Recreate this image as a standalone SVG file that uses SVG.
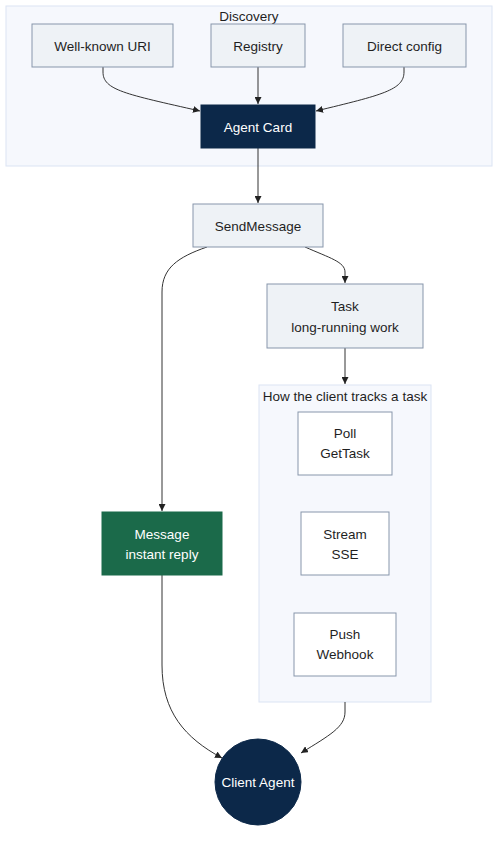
<svg xmlns="http://www.w3.org/2000/svg" width="504" height="841" viewBox="0 0 504 841">
<style>
text{font-family:"Liberation Sans",Arial,sans-serif;font-size:13.5px;fill:#1f1f1f;text-anchor:middle;dominant-baseline:central}
.cl{fill:#f6f8fd;stroke:#dbe4f3;stroke-width:1}
.n{fill:#eef2f6;stroke:#8796ab;stroke-width:1}
.w{fill:#ffffff;stroke:#8796ab;stroke-width:1}
.dk{fill:#0c2849;stroke:#0c2849}
.gr{fill:#1b6a4a;stroke:#1b6a4a}
.lt{fill:#ffffff}
.e{fill:none;stroke:#333;stroke-width:1;marker-end:url(#ah)}
</style>
<defs>
<marker id="ah" viewBox="0 0 10 10" refX="10" refY="5" markerWidth="7" markerHeight="7" markerUnits="userSpaceOnUse" orient="auto">
<path d="M0,0 L10,5 L0,10 z" fill="#222"/>
</marker>
</defs>
<rect width="504" height="841" fill="#ffffff"/>
<g id="cluster-discovery">
<rect class="cl" x="6" y="6" width="486" height="160"/>
<text x="249" y="16">Discovery</text>
</g>
<g id="cluster-track">
<rect class="cl" x="259" y="385" width="172" height="317"/>
<text x="345" y="396">How the client tracks a task</text>
</g>
<g id="edges">
<path class="e" d="M103,67 L103,72 C103,90 125,94 200,111"/>
<path class="e" d="M258,67 L258,104"/>
<path class="e" d="M404,67 L404,72 C404,90 382,95 316,111"/>
<path class="e" d="M258,148 L258,203"/>
<path class="e" d="M305,247 C330,258 345,262 345,272 L345,283"/>
<path class="e" d="M207,247 C178,257 162,268 162,292 L162,511"/>
<path class="e" d="M345,348 L345,384"/>
<path class="e" d="M162,575 L162,665 C162,712 185,738 222,758"/>
<path class="e" d="M345,702 L345,712 C345,727 330,735 301,753"/>
</g>
<g id="node-wellknown">
<rect class="n" x="32" y="24" width="141" height="43"/>
<text x="102.5" y="46">Well-known URI</text>
</g>
<g id="node-registry">
<rect class="n" x="211" y="24" width="94" height="43"/>
<text x="258" y="46">Registry</text>
</g>
<g id="node-direct">
<rect class="n" x="343" y="24" width="123" height="43"/>
<text x="404.5" y="46">Direct config</text>
</g>
<g id="node-agentcard">
<rect class="dk" x="201" y="105" width="114" height="43"/>
<text class="lt" x="258" y="127">Agent Card</text>
</g>
<g id="node-sendmessage">
<rect class="n" x="193" y="204" width="130" height="43"/>
<text x="258" y="226">SendMessage</text>
</g>
<g id="node-task">
<rect class="n" x="267" y="284" width="156" height="64"/>
<text x="345" y="306">Task</text>
<text x="345" y="327">long-running work</text>
</g>
<g id="node-message">
<rect class="gr" x="102" y="512" width="120" height="63"/>
<text class="lt" x="162" y="534">Message</text>
<text class="lt" x="162" y="554">instant reply</text>
</g>
<g id="node-poll">
<rect class="w" x="298" y="412" width="94" height="63"/>
<text x="345" y="433">Poll</text>
<text x="345" y="453">GetTask</text>
</g>
<g id="node-stream">
<rect class="w" x="301" y="512" width="88" height="63"/>
<text x="345" y="534">Stream</text>
<text x="345" y="554">SSE</text>
</g>
<g id="node-push">
<rect class="w" x="294" y="613" width="102" height="63"/>
<text x="345" y="634">Push</text>
<text x="345" y="654">Webhook</text>
</g>
<g id="node-client">
<circle class="dk" cx="258" cy="782" r="43"/>
<text class="lt" x="258" y="782">Client Agent</text>
</g>
</svg>
